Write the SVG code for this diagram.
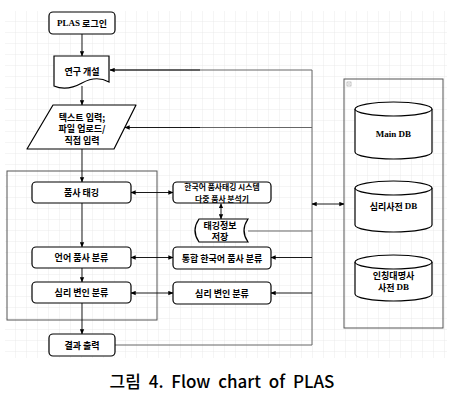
<svg xmlns="http://www.w3.org/2000/svg" width="451" height="402" viewBox="0 0 451 402">
<defs>
<pattern id="grid" x="5" y="11" width="11" height="11" patternUnits="userSpaceOnUse">
<path d="M11,0 V11 M0,11 H11" fill="none" stroke="#e6e6e6" stroke-width="0.8"/>
</pattern>
<marker id="ah" viewBox="0 0 8 8" refX="7.5" refY="4" markerWidth="5" markerHeight="5" orient="auto-start-reverse" markerUnits="userSpaceOnUse">
<path d="M0,0.5 L8,4 L0,7.5 Z" fill="#000"/>
</marker>
</defs>
<style>
.n{fill:#fff;stroke:#000;stroke-width:1.2}
.t{font-family:"Noto Sans CJK KR","Liberation Sans",sans-serif;font-size:9px;font-weight:bold;fill:#000;text-anchor:middle;dominant-baseline:central}
.sm{font-size:7.8px}
.s{font-family:"Liberation Serif","Noto Sans CJK KR",serif;font-weight:bold}
.c{fill:none;stroke:#000;stroke-width:0.9}
.g{fill:none;stroke:#666;stroke-width:1}
</style>
<rect width="451" height="402" fill="#fff"/>
<rect x="5" y="11" width="442" height="347" fill="url(#grid)"/>

<g id="groups">
<rect x="7" y="171" width="150" height="149" fill="none" stroke="#555" stroke-width="1"/>
<rect x="344" y="79" width="99" height="249" fill="none" stroke="#555" stroke-width="1"/>
<rect x="347" y="82" width="4" height="4" fill="none" stroke="#999" stroke-width="0.6"/>
<line x1="348" y1="84" x2="350" y2="84" stroke="#999" stroke-width="0.6"/>
</g>

<g id="connectors">
<line class="c" x1="82" y1="34" x2="82" y2="56" marker-end="url(#ah)"/>
<line class="c" x1="82" y1="86" x2="82" y2="105" marker-end="url(#ah)"/>
<line class="c" x1="82" y1="149" x2="82" y2="182" marker-end="url(#ah)"/>
<line class="c" x1="82" y1="203" x2="82" y2="247" marker-end="url(#ah)"/>
<line class="c" x1="82" y1="268" x2="82" y2="282" marker-end="url(#ah)"/>
<line class="c" x1="82" y1="303" x2="82" y2="334" marker-end="url(#ah)"/>
<line class="c" x1="131" y1="192.5" x2="173" y2="192.5" marker-start="url(#ah)" marker-end="url(#ah)"/>
<line class="c" x1="131" y1="257.5" x2="173" y2="257.5" marker-start="url(#ah)" marker-end="url(#ah)"/>
<line class="c" x1="131" y1="293" x2="173" y2="293" marker-start="url(#ah)" marker-end="url(#ah)"/>
<line class="c" x1="221" y1="203.5" x2="221" y2="219" marker-start="url(#ah)" marker-end="url(#ah)"/>
<path class="g" d="M115,345 H312 V70 H110"/>
<line class="c" x1="200" y1="70" x2="110" y2="70" marker-end="url(#ah)"/>
<line class="g" x1="312" y1="127.5" x2="200" y2="127.5"/>
<line class="c" x1="200" y1="127.5" x2="125" y2="127.5" marker-end="url(#ah)"/>
<line class="g" x1="248" y1="231" x2="312" y2="231"/>
<line class="c" x1="312" y1="257.5" x2="271" y2="257.5" marker-end="url(#ah)"/>
<line class="c" x1="312" y1="293" x2="271" y2="293" marker-end="url(#ah)"/>
<line class="c" x1="312" y1="204" x2="344" y2="204" marker-start="url(#ah)" marker-end="url(#ah)"/>
</g>

<g id="login">
<rect class="n" x="49" y="12" width="66" height="22" rx="4"/>
<text class="t" x="82" y="23"><tspan class="s">PLAS</tspan> 로그인</text>
</g>
<g id="research">
<path class="n" d="M54,56 H109 V82 C100,77 91,78 82,83 C73,88 63,90 54,86 Z"/>
<text class="t" x="82" y="71">연구 개설</text>
</g>
<g id="input">
<polygon class="n" stroke-linejoin="round" points="53,105 136,105 114,149 27,149"/>
<text class="t" x="82" y="117">텍스트 입력;</text>
<text class="t" x="82" y="128.5">파일 업로드/</text>
<text class="t" x="82" y="140">직접 입력</text>
</g>
<g id="tagging">
<rect class="n" x="32" y="182" width="99" height="21" rx="4"/>
<text class="t" x="81.5" y="192.5">품사 태깅</text>
</g>
<g id="langpos">
<rect class="n" x="32" y="247" width="99" height="21" rx="4"/>
<text class="t" x="81.5" y="257.5">언어 품사 분류</text>
</g>
<g id="psych">
<rect class="n" x="32" y="282" width="99" height="21" rx="4"/>
<text class="t" x="81.5" y="292.5">심리 변인 분류</text>
</g>
<g id="output">
<rect class="n" x="49" y="334" width="66" height="22" rx="4"/>
<text class="t" x="82" y="345">결과 출력</text>
</g>
<g id="korean-tagger">
<rect class="n" x="173" y="182" width="98" height="21" rx="4"/>
<text class="t sm" x="222" y="186.8">한국어 품사태깅 시스템</text>
<text class="t sm" x="222" y="198">다중 품사 분석기</text>
</g>
<g id="tag-store">
<path class="n" d="M199,219 H248 Q240,230.5 248,242 H199 Q191,230.5 199,219 Z"/>
<text class="t" x="220" y="225">태깅정보</text>
<text class="t" x="220" y="236.5">저장</text>
</g>
<g id="integrated">
<rect class="n" x="173" y="247" width="98" height="22" rx="4"/>
<text class="t" x="222" y="258">통합 한국어 품사 분류</text>
</g>
<g id="psych2">
<rect class="n" x="173" y="282" width="98" height="22" rx="4"/>
<text class="t" x="222" y="293">심리 변인 분류</text>
</g>
<g id="maindb">
<path class="n" d="M355,109 V152 A38.5,7 0 0 0 432,152 V109 A38.5,7 0 0 0 355,109 Z"/>
<path class="n" fill="none" d="M355,109 A38.5,7 0 0 0 432,109"/>
<text class="t s" x="393.5" y="134">Main DB</text>
</g>
<g id="psychdb">
<path class="n" d="M355,188 V225 A38.5,7 0 0 0 432,225 V188 A38.5,7 0 0 0 355,188 Z"/>
<path class="n" fill="none" d="M355,188 A38.5,7 0 0 0 432,188"/>
<text class="t" x="393.5" y="206">심리사전 <tspan class="s">DB</tspan></text>
</g>
<g id="pronoundb">
<path class="n" d="M355,262 V294 A38.5,7 0 0 0 432,294 V262 A38.5,7 0 0 0 355,262 Z"/>
<path class="n" fill="none" d="M355,262 A38.5,7 0 0 0 432,262"/>
<text class="t" x="393.5" y="275">인칭대명사</text>
<text class="t" x="393.5" y="287">사전 <tspan class="s">DB</tspan></text>
</g>

<text x="222" y="388" font-family="'Noto Sans CJK KR','Liberation Sans',sans-serif" font-size="17" font-weight="500" text-anchor="middle" word-spacing="4" fill="#000">그림 4. Flow chart of PLAS</text>
</svg>
